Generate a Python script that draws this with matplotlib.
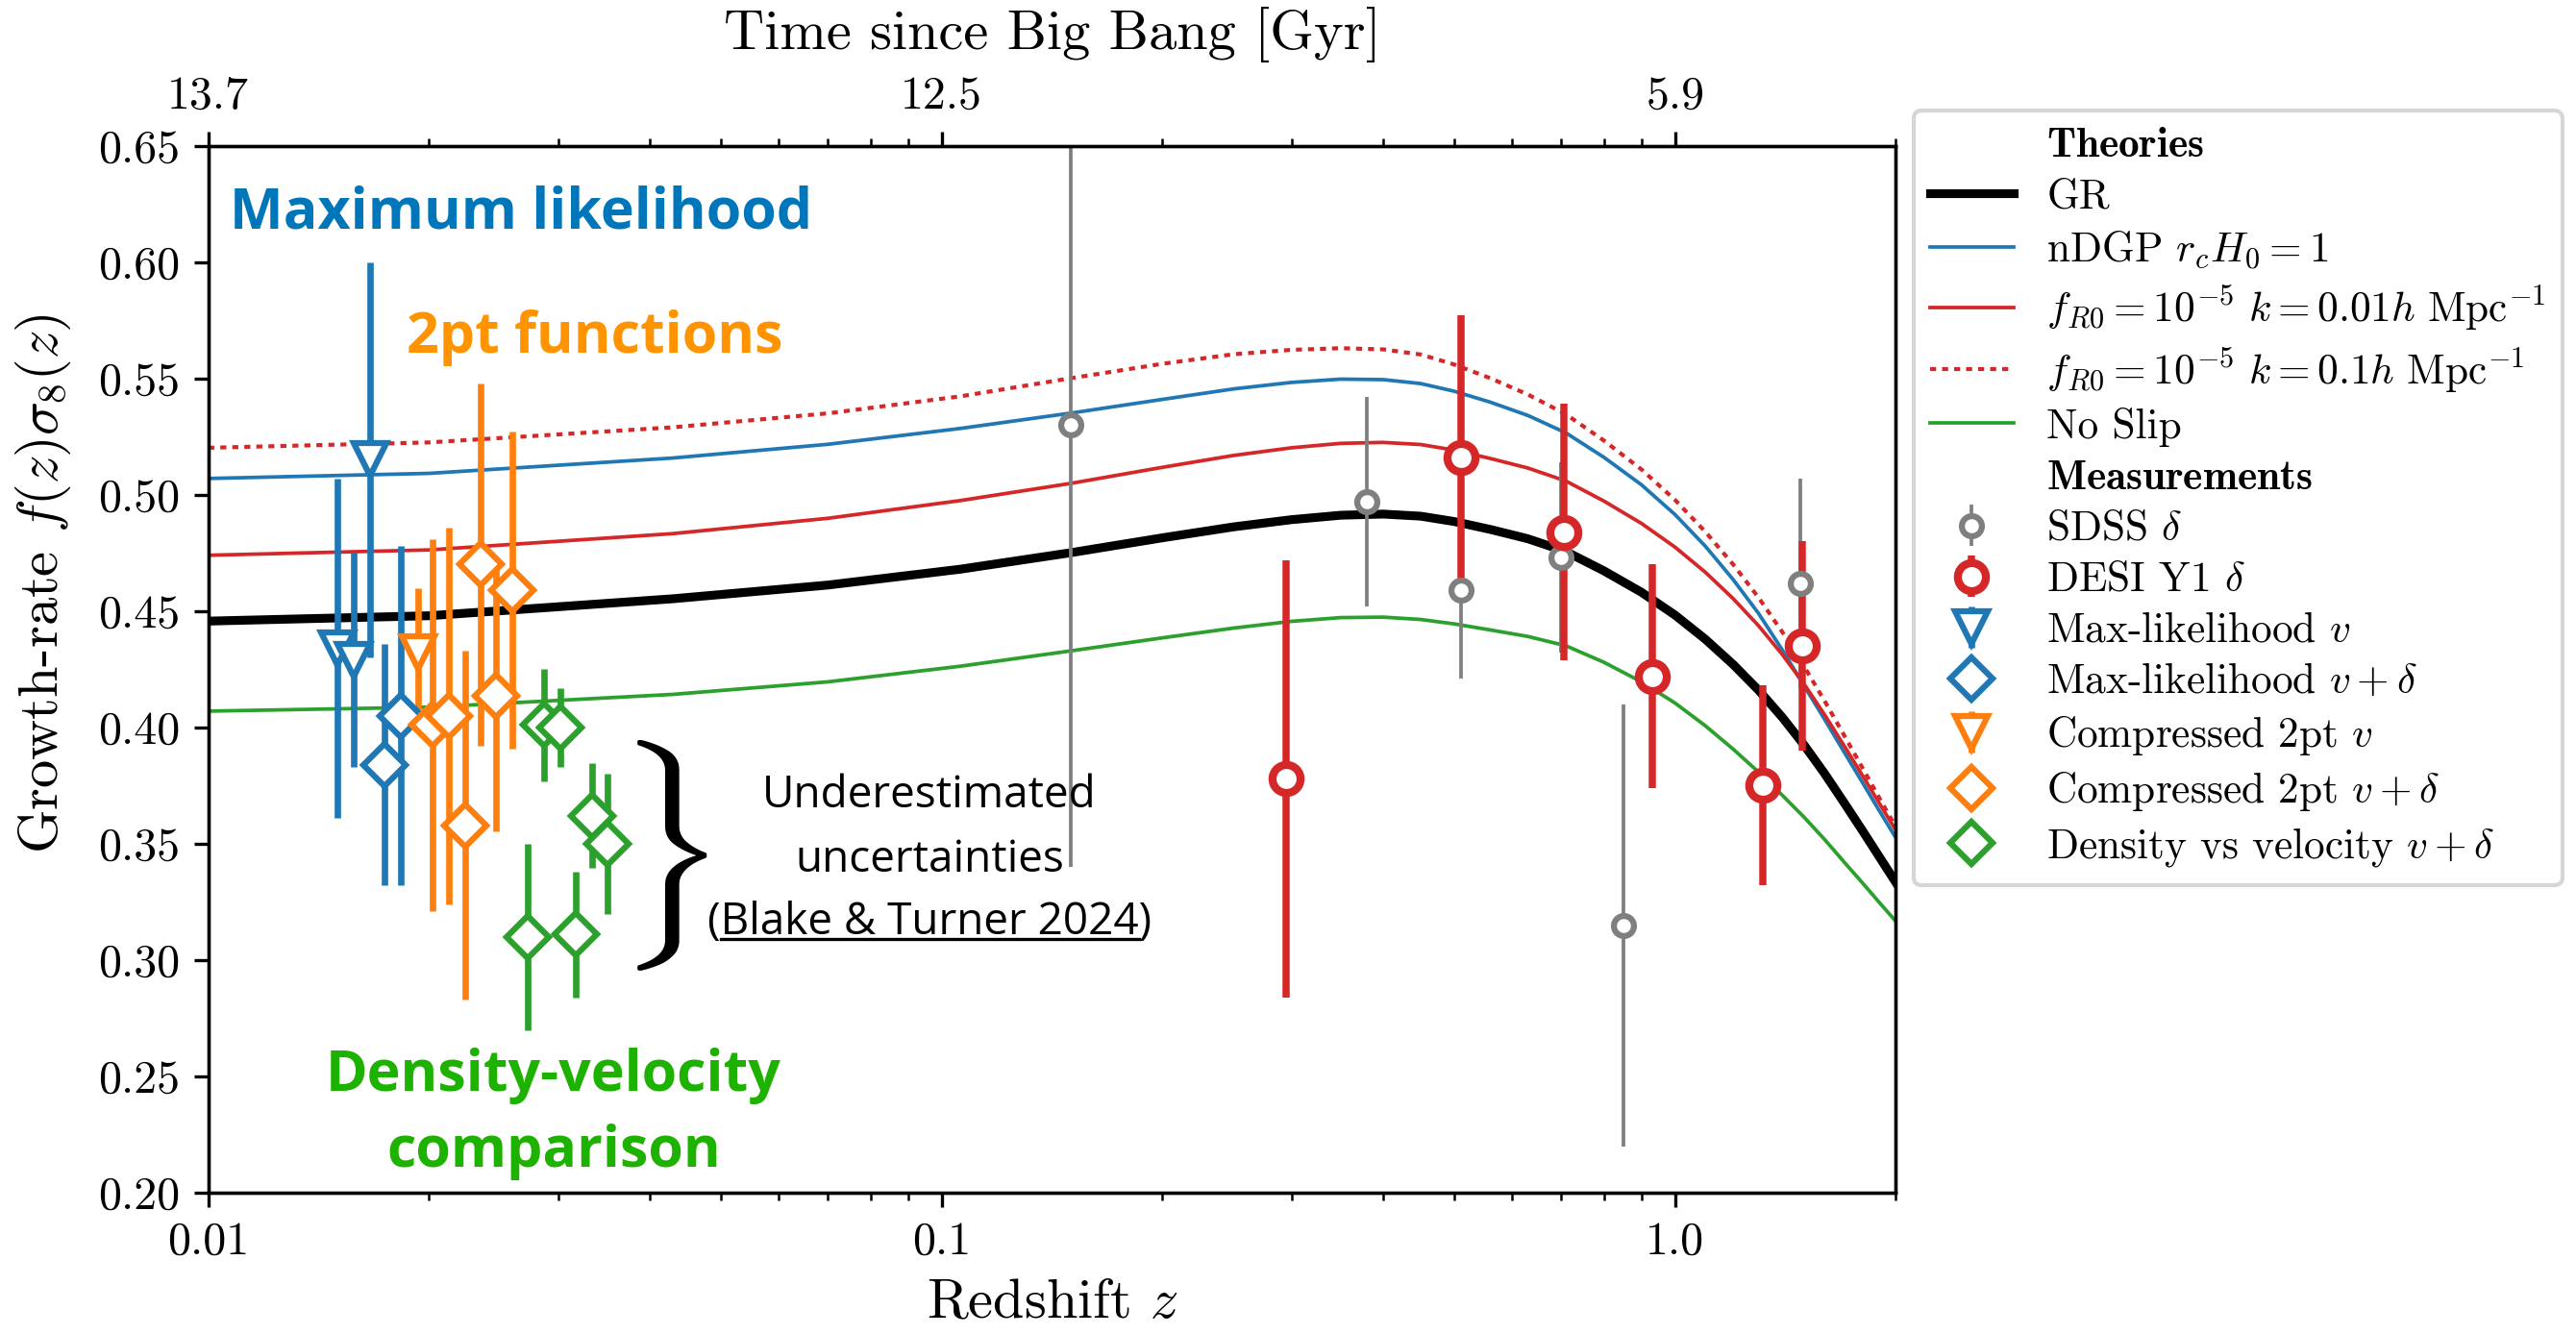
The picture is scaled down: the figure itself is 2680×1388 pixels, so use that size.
# fsigma8 growth-rate plot with theories + measurements

import numpy as np
import matplotlib
matplotlib.use("Agg")
import matplotlib.pyplot as plt
from matplotlib.lines import Line2D
from matplotlib.ticker import NullFormatter

plt.rcParams["font.family"] = "serif"
plt.rcParams["font.serif"] = ["cmr10"]
plt.rcParams["mathtext.fontset"] = "cm"
plt.rcParams["axes.formatter.use_mathtext"] = True
plt.rcParams["axes.unicode_minus"] = False

# theory curves at these redshifts
z_th = [0.01, 0.02, 0.043, 0.07, 0.106, 0.15, 0.2, 0.25, 0.3, 0.35, 0.4, 0.45, 0.5, 0.56, 0.63,
        0.71, 0.8, 0.9, 1.0, 1.1, 1.2, 1.3, 1.4, 1.5, 1.6, 1.7, 1.8, 1.9, 2.0]
gr = [0.4457, 0.4480, 0.4553, 0.4612, 0.4680, 0.4751, 0.4815, 0.4862, 0.4893, 0.4912, 0.4917,
      0.4908, 0.4885, 0.4851, 0.4811, 0.4756, 0.4673, 0.4581, 0.4483, 0.4379, 0.4271, 0.4160,
      0.4044, 0.3924, 0.3801, 0.3677, 0.3558, 0.3443, 0.3334]
ndgp = [0.5070, 0.5092, 0.5158, 0.5217, 0.5285, 0.5351, 0.5410, 0.5455, 0.5483, 0.5497, 0.5495,
        0.5478, 0.5445, 0.5398, 0.5341, 0.5266, 0.5161, 0.5043, 0.4915, 0.4779, 0.4636, 0.4490,
        0.4334, 0.4179, 0.4034, 0.3895, 0.3765, 0.3641, 0.3526]
fr_k001 = [0.4740, 0.4763, 0.4833, 0.4899, 0.4975, 0.5049, 0.5118, 0.5169, 0.5202, 0.5221, 0.5225,
           0.5216, 0.5192, 0.5156, 0.5115, 0.5059, 0.4973, 0.4877, 0.4775, 0.4667, 0.4554, 0.4437,
           0.4314, 0.4186, 0.4054, 0.3922, 0.3795, 0.3673, 0.3558]
fr_k01 = [0.5202, 0.5225, 0.5290, 0.5350, 0.5423, 0.5501, 0.5563, 0.5604, 0.5623, 0.5630, 0.5625,
          0.5603, 0.5560, 0.5501, 0.5431, 0.5346, 0.5233, 0.5109, 0.4978, 0.4841, 0.4701, 0.4558,
          0.4411, 0.4262, 0.4113, 0.3967, 0.3828, 0.3696, 0.3572]
noslip = [0.4070, 0.4087, 0.4142, 0.4196, 0.4263, 0.4329, 0.4385, 0.4427, 0.4456, 0.4472, 0.4474,
          0.4464, 0.4445, 0.4419, 0.4391, 0.4351, 0.4280, 0.4196, 0.4105, 0.4007, 0.3907, 0.3808,
          0.3709, 0.3614, 0.3518, 0.3422, 0.3333, 0.3247, 0.3167]

# measurements
sdss_z = [0.15, 0.38, 0.51, 0.70, 0.85, 1.48]
sdss_f = [0.53, 0.497, 0.459, 0.473, 0.315, 0.462]
sdss_err = [0.19, 0.045, 0.038, 0.041, 0.095, 0.045]

desi_z = [0.295, 0.51, 0.706, 0.93, 1.317, 1.491]
desi_f = [0.378, 0.516, 0.484, 0.422, 0.375, 0.435]
desi_err = [0.094, 0.061, 0.055, 0.048, 0.043, 0.045]

ml_v_z = [0.0150, 0.0158, 0.0166]
ml_v_f = [0.434, 0.429, 0.515]
ml_v_err = [0.073, 0.046, 0.085]

ml_vd_z = [0.0174, 0.0183]
ml_vd_f = [0.384, 0.405]
ml_vd_err = [0.052, 0.073]

c2pt_v_z = [0.0193]
c2pt_v_f = [0.432]
c2pt_v_err = [0.028]

c2pt_vd_z = [0.0202, 0.0213, 0.0224, 0.0235, 0.0247, 0.0260]
c2pt_vd_f = [0.401, 0.405, 0.358, 0.470, 0.4135, 0.459]
c2pt_vd_err = [0.080, 0.081, 0.075, 0.078, 0.058, 0.068]

dv_z = [0.0273, 0.0287, 0.0302, 0.0317, 0.0334, 0.0350]
dv_f = [0.310, 0.401, 0.400, 0.311, 0.362, 0.350]
dv_err = [0.040, 0.024, 0.017, 0.027, 0.0225, 0.030]

W, H = 2680, 1388
fig = plt.figure(figsize=(W / 300, H / 300), dpi=300)
ax = fig.add_axes([216.7 / W, 1 - 1241 / H, (1972.3 - 216.7) / W, (1241 - 151.7) / H])

# theories
l_gr, = ax.plot(z_th, gr, color="k", lw=2.2)
l_dgp, = ax.plot(z_th, ndgp, color="tab:blue", lw=0.9)
l_fr1, = ax.plot(z_th, fr_k001, color="tab:red", lw=0.9)
l_fr2, = ax.plot(z_th, fr_k01, color="tab:red", lw=1.0, ls=(0, (1.5, 1.5)))
l_ns, = ax.plot(z_th, noslip, color="tab:green", lw=0.9)

# measurements
e_sdss = ax.errorbar(sdss_z, sdss_f, yerr=sdss_err, fmt="o", color="tab:gray", mfc="white",
                     ms=5, mew=1.5, elinewidth=0.9)
e_desi = ax.errorbar(desi_z, desi_f, yerr=desi_err, fmt="o", color="tab:red", mfc="white",
                     ms=7, mew=2, elinewidth=1.8)
e_mlv = ax.errorbar(ml_v_z, ml_v_f, yerr=ml_v_err, fmt="v", color="tab:blue", mfc="white",
                    ms=8, mew=1.5, elinewidth=1.6)
e_mlvd = ax.errorbar(ml_vd_z, ml_vd_f, yerr=ml_vd_err, fmt="D", color="tab:blue", mfc="white",
                     ms=7.5, mew=1.5, elinewidth=1.6)
e_cv = ax.errorbar(c2pt_v_z, c2pt_v_f, yerr=c2pt_v_err, fmt="v", color="tab:orange", mfc="white",
                   ms=8, mew=1.5, elinewidth=1.6)
e_cvd = ax.errorbar(c2pt_vd_z, c2pt_vd_f, yerr=c2pt_vd_err, fmt="D", color="tab:orange", mfc="white",
                    ms=7.5, mew=1.5, elinewidth=1.6)
e_dv = ax.errorbar(dv_z, dv_f, yerr=dv_err, fmt="D", color="tab:green", mfc="white",
                   ms=7.5, mew=1.5, elinewidth=1.6)

ax.set_xscale("log")
ax.set_xlim(0.01, 2.0)
ax.set_ylim(0.20, 0.65)
ax.set_xticks([0.01, 0.1, 1.0])
ax.set_xticklabels(["0.01", "0.1", "1.0"])
ax.xaxis.set_minor_formatter(NullFormatter())
yt = np.arange(0.20, 0.651, 0.05)
ax.set_yticks(yt)
ax.set_yticklabels(["%.2f" % v for v in yt])
ax.tick_params(labelsize=11.5)
ax.set_xlabel(r"Redshift $z$", fontsize=14)
ax.set_ylabel(r"Growth-rate $f(z)\sigma_8(z)$", fontsize=14)
ax.yaxis.set_label_coords(-0.080, 0.582)

# top axis: time since big bang
ax2 = ax.twiny()
ax2.set_xscale("log")
ax2.set_xlim(ax.get_xlim())
ax2.set_xticks([0.01, 0.1, 1.0])
ax2.set_xticklabels(["13.7", "12.5", "5.9"])
ax2.xaxis.set_minor_formatter(NullFormatter())
ax2.tick_params(labelsize=11.5)
ax2.set_xlabel("Time since Big Bang [Gyr]", fontsize=14, labelpad=6.5)

# legend
blank = Line2D([], [], linestyle="none", marker=None)
handles = [blank, l_gr, l_dgp, l_fr1, l_fr2, l_ns, blank,
           e_sdss, e_desi, e_mlv, e_mlvd, e_cv, e_cvd, e_dv]
labels = [r"$\mathbf{Theories}$", "GR", r"nDGP $r_cH_0=1$",
          r"$f_{R0}=10^{-5}\ k=0.01h\ \mathrm{Mpc}^{-1}$",
          r"$f_{R0}=10^{-5}\ k=0.1h\ \mathrm{Mpc}^{-1}$", "No Slip",
          r"$\mathbf{Measurements}$", r"SDSS $\delta$", r"DESI Y1 $\delta$",
          r"Max-likelihood $v$", r"Max-likelihood $v+\delta$", r"Compressed 2pt $v$",
          r"Compressed 2pt $v+\delta$", r"Density vs velocity $v+\delta$"]
fig.legend(handles, labels, loc="upper left", bbox_to_anchor=(1990.7 / W, 1 - 115 / H),
           bbox_transform=fig.transFigure, borderaxespad=0, fontsize=10.4, labelspacing=0.3)

# annotations
sans = "Open Sans"
fig.text(239 / W, 1 - 237 / H, "Maximum likelihood", color="#0076ba", fontsize=14.2,
         fontweight="bold", family=sans, ha="left", va="baseline")
fig.text(423 / W, 1 - 367 / H, "2pt functions", color="#ff9300", fontsize=14.2,
         fontweight="bold", family=sans, ha="left", va="baseline")
fig.text(576 / W, 1 - 1135 / H, "Density-velocity", color="#1db100", fontsize=14.2,
         fontweight="bold", family=sans, ha="center", va="baseline")
fig.text(576 / W, 1 - 1214 / H, "comparison", color="#1db100", fontsize=14.2,
         fontweight="bold", family=sans, ha="center", va="baseline")

fs_u = 11
fig.text(967 / W, 1 - 840 / H, "Underestimated", fontsize=fs_u, family=sans, ha="center", va="baseline")
fig.text(967 / W, 1 - 907 / H, "uncertainties", fontsize=fs_u, family=sans, ha="center", va="baseline")
t3 = fig.text(967 / W, 1 - 972 / H, "(Blake & Turner 2024)", fontsize=fs_u, family=sans,
              ha="center", va="baseline")
fig.text(688 / W, 1 - 890 / H, r"$\}$", fontsize=48, ha="center", va="center")

fig.canvas.draw()
rend = fig.canvas.get_renderer()
bb = t3.get_window_extent(rend)
tmp = fig.text(0, 0, "(", fontsize=fs_u, family=sans)
wl = tmp.get_window_extent(rend).width
tmp.set_text(")")
wr = tmp.get_window_extent(rend).width
tmp.remove()
yu = 1 - 977 / H
fig.add_artist(Line2D([(bb.x0 + wl) / W, (bb.x1 - wr) / W], [yu, yu],
                      transform=fig.transFigure, color="k", lw=0.8))

fig.savefig("out.png", dpi=300)
